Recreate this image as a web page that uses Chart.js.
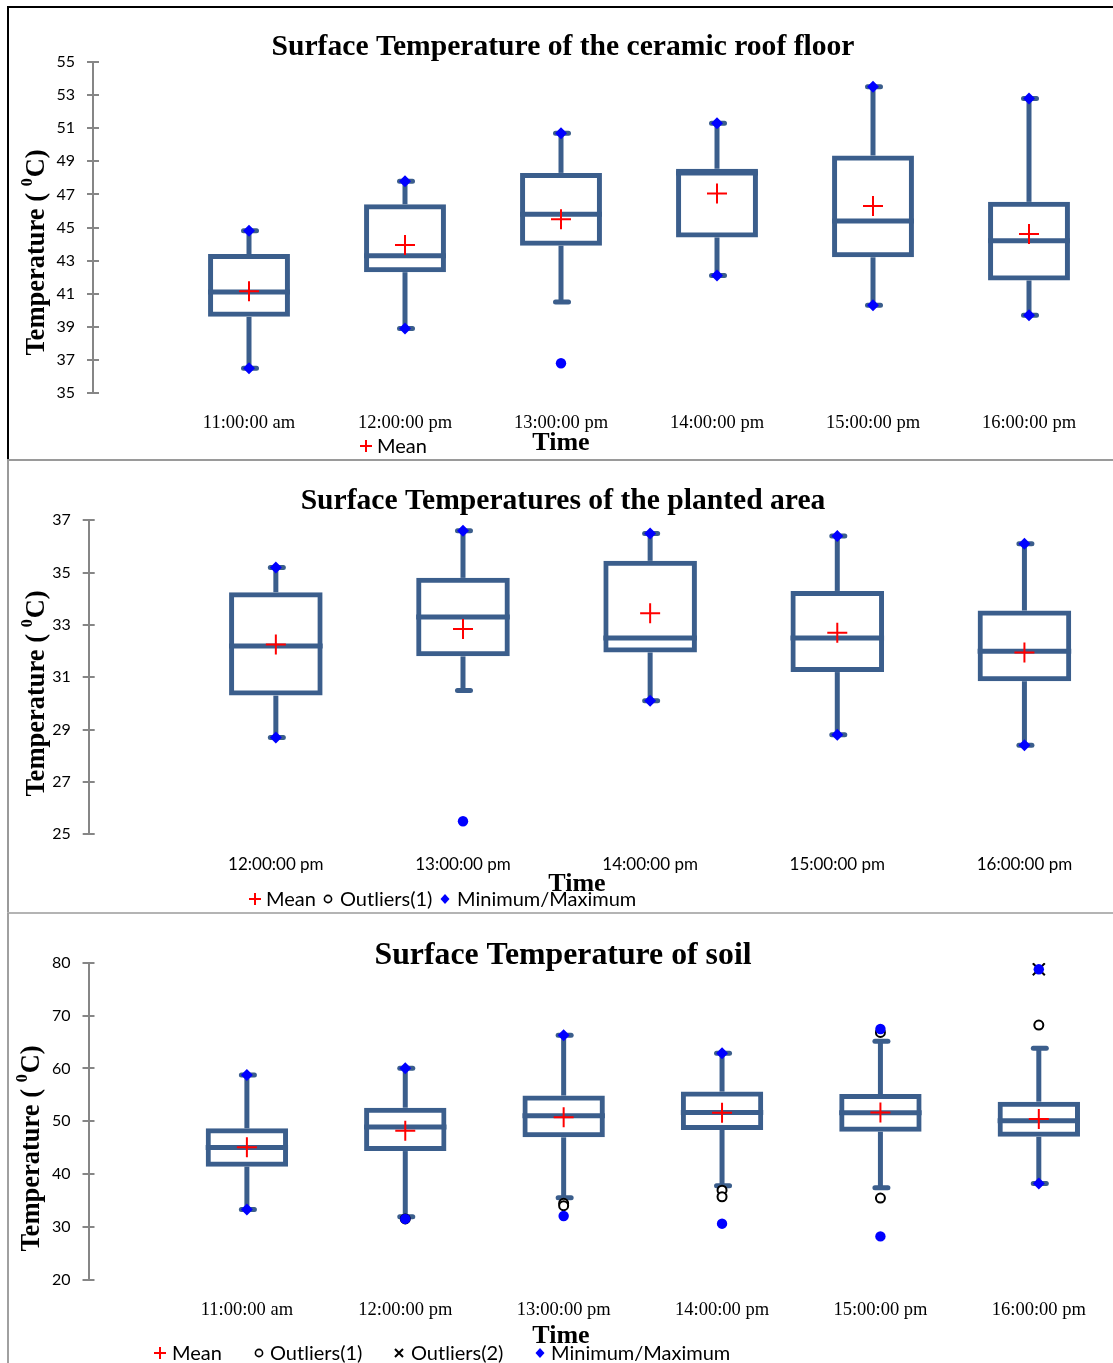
<!DOCTYPE html>
<html>
<head>
<meta charset="utf-8">
<script src="https://cdn.jsdelivr.net/npm/chart.js@4.4.1/dist/chart.umd.min.js"></script>
<style>
html,body{margin:0;padding:0;background:#fff;overflow:hidden;width:1113px;height:1363px;position:relative;}
canvas{position:absolute;left:0;}
.ln{position:absolute;}
</style>
</head>
<body>
<div class="ln" style="left:7px;top:6px;width:1120px;height:2px;background:#000;"></div>
<div class="ln" style="left:7px;top:6px;width:2px;height:454px;background:#000;"></div>
<div class="ln" style="left:7px;top:459px;width:1120px;height:2px;background:#9a9a9a;"></div>
<div class="ln" style="left:7px;top:460px;width:2px;height:453px;background:#9a9a9a;"></div>
<div class="ln" style="left:7px;top:912px;width:1120px;height:2px;background:#b4b4b4;"></div>
<div class="ln" style="left:7px;top:913px;width:2px;height:460px;background:#a0a0a0;"></div>

<canvas id="c1" width="1130" height="460" style="top:0px"></canvas>
<canvas id="c2" width="1130" height="453" style="top:460px"></canvas>
<canvas id="c3" width="1130" height="450" style="top:913px"></canvas>

<script>
// ---------- DATA: ceramic roof floor ----------
const roofTimes = ['11:00:00 am','12:00:00 pm','13:00:00 pm','14:00:00 pm','15:00:00 pm','16:00:00 pm'];
const roofMin    = [36.5, 38.9, 36.8, 42.1, 40.3, 39.7];
const roofLow    = [36.5, 38.9, 40.5, 42.1, 40.3, 39.7];
const roofQ1     = [39.6, 42.3, 43.9, 44.4, 43.2, 41.8];
const roofMedian = [41.1, 43.3, 45.8, 48.3, 45.4, 44.2];
const roofQ3     = [43.4, 46.4, 48.3, 48.55, 49.35, 46.55];
const roofHigh   = [44.8, 47.8, 50.7, 51.3, 53.5, 52.8];
const roofMax    = [44.8, 47.8, 50.7, 51.3, 53.5, 52.8];
const roofMean   = [41.15, 43.95, 45.5, 47.05, 46.3, 44.6];
const roofOut1Idx = [];
const roofOut1Val = [];
const roofOut2Idx = [];
const roofOut2Val = [];

// ---------- DATA: planted area ----------
const plantTimes = ['12:00:00 pm','13:00:00 pm','14:00:00 pm','15:00:00 pm','16:00:00 pm'];
const plantMin    = [28.7, 25.5, 30.1, 28.8, 28.4];
const plantLow    = [28.7, 30.5, 30.1, 28.8, 28.4];
const plantQ1     = [30.3, 31.8, 31.95, 31.2, 30.85];
const plantMedian = [32.2, 33.3, 32.5, 32.5, 32.0];
const plantQ3     = [34.25, 34.8, 35.45, 34.3, 33.55];
const plantHigh   = [35.2, 36.6, 36.5, 36.4, 36.1];
const plantMax    = [35.2, 36.6, 36.5, 36.4, 36.1];
const plantMean   = [32.25, 32.85, 33.45, 32.7, 31.95];
const plantOut1Idx = [];
const plantOut1Val = [];
const plantOut2Idx = [];
const plantOut2Val = [];

// ---------- DATA: soil ----------
const soilTimes = ['11:00:00 am','12:00:00 pm','13:00:00 pm','14:00:00 pm','15:00:00 pm','16:00:00 pm'];
const soilMin    = [33.3, 31.5, 32.05, 30.6, 28.2, 38.2];
const soilLow    = [33.3, 31.9, 35.5, 37.8, 37.4, 38.2];
const soilQ1     = [41.4, 44.35, 46.95, 48.35, 48.0, 47.05];
const soilMedian = [45.0, 48.9, 51.05, 51.65, 51.6, 50.1];
const soilQ3     = [48.65, 52.55, 54.85, 55.6, 55.15, 53.7];
const soilHigh   = [58.75, 60.0, 66.25, 62.85, 65.15, 63.8];
const soilMax    = [58.75, 60.0, 66.25, 62.85, 67.45, 78.75];
const soilMean   = [45.05, 48.2, 50.75, 51.6, 51.65, 50.4];
const soilOut1Idx = [1, 2, 2, 3, 3, 4, 4, 5];
const soilOut1Val = [31.5, 34.45, 34.0, 36.95, 35.7, 66.8, 35.45, 68.2];
const soilOut2Idx = [5];
const soilOut2Val = [78.75];

// ---------- rendering ----------
const BOX = '#3B5E8C';

const boxParts = {
  id: 'boxParts',
  beforeDatasetsDraw(chart, args, o) {
    const ctx = chart.ctx, xs = chart.scales.x, ys = chart.scales.y;
    const meta = chart.getDatasetMeta(0);
    ctx.save();
    ctx.strokeStyle = o.color;
    ctx.lineWidth = o.lw;
    const seg = (x1, y1, x2, y2, cap) => { ctx.lineCap = cap; ctx.beginPath(); ctx.moveTo(x1, y1); ctx.lineTo(x2, y2); ctx.stroke(); };
    o.q1.forEach((_, i) => {
      const cx = xs.getPixelForValue(i);
      const half = meta.data[i].width / 2;
      seg(cx, ys.getPixelForValue(o.q3[i]), cx, ys.getPixelForValue(o.hi[i]), 'butt');
      seg(cx, ys.getPixelForValue(o.q1[i]), cx, ys.getPixelForValue(o.lo[i]), 'butt');
      seg(cx - o.cap + 1, ys.getPixelForValue(o.hi[i]), cx + o.cap + 1, ys.getPixelForValue(o.hi[i]), 'round');
      seg(cx - o.cap + 1, ys.getPixelForValue(o.lo[i]), cx + o.cap + 1, ys.getPixelForValue(o.lo[i]), 'round');
      seg(cx - half, ys.getPixelForValue(o.med[i]), cx + half, ys.getPixelForValue(o.med[i]), 'butt');
    });
    // inner half of the y tick marks
    ctx.strokeStyle = '#868686'; ctx.lineWidth = 2;
    ys.ticks.forEach(t => {
      const py = Math.round(ys.getPixelForValue(t.value));
      seg(chart.chartArea.left, py, chart.chartArea.left + 6, py, 'butt');
    });
    ctx.restore();
  }
};

const decor = {
  id: 'decor',
  afterDraw(chart, args, o) {
    const ctx = chart.ctx;
    ctx.save();
    ctx.fillStyle = '#000';
    ctx.textBaseline = 'middle';
    ctx.textAlign = 'center';
    ctx.font = 'bold ' + o.titleSize + 'px "Liberation Serif"';
    ctx.fillText(o.title, o.titleX, o.titleY);
    ctx.font = 'bold ' + o.timeSize + 'px "Liberation Serif"';
    ctx.fillText(o.xTitle, o.timeX, o.timeY);
    // rotated y title with superscript 0
    ctx.save();
    ctx.translate(o.yX, o.yY);
    ctx.rotate(-Math.PI / 2);
    ctx.textAlign = 'left';
    const s = o.ySize;
    const fMain = 'bold ' + s + 'px "Liberation Serif"';
    const fSup = 'bold ' + Math.round(s * 0.62) + 'px "Liberation Serif"';
    const p1 = 'Temperature ( ', p2 = '0', p3 = 'C)';
    ctx.font = fMain; const w1 = ctx.measureText(p1).width, w3 = ctx.measureText(p3).width;
    ctx.font = fSup; const w2 = ctx.measureText(p2).width;
    let x0 = -(w1 + w2 + w3) / 2;
    ctx.font = fMain; ctx.fillText(p1, x0, 0);
    ctx.font = fSup; ctx.fillText(p2, x0 + w1, -s * 0.33);
    ctx.font = fMain; ctx.fillText(p3, x0 + w1 + w2 + 1, 0);
    ctx.restore();
    // legend
    ctx.textAlign = 'left';
    ctx.font = o.legSize + 'px Lato';
    const ly = o.legY;
    o.legend.forEach(it => {
      ctx.save();
      if (it.m === 'mean') {
        ctx.strokeStyle = '#FF0000'; ctx.lineWidth = 2;
        ctx.beginPath(); ctx.moveTo(it.mx - 6, ly); ctx.lineTo(it.mx + 6, ly);
        ctx.moveTo(it.mx, ly - 6); ctx.lineTo(it.mx, ly + 6); ctx.stroke();
      } else if (it.m === 'circle') {
        ctx.strokeStyle = '#000'; ctx.lineWidth = 1.6;
        ctx.beginPath(); ctx.arc(it.mx, ly, 3.6, 0, Math.PI * 2); ctx.stroke();
      } else if (it.m === 'x') {
        ctx.strokeStyle = '#000'; ctx.lineWidth = 2;
        ctx.beginPath(); ctx.moveTo(it.mx - 4, ly - 4); ctx.lineTo(it.mx + 4, ly + 4);
        ctx.moveTo(it.mx + 4, ly - 4); ctx.lineTo(it.mx - 4, ly + 4); ctx.stroke();
      } else if (it.m === 'diamond') {
        ctx.fillStyle = '#0000FF';
        ctx.beginPath(); ctx.moveTo(it.mx, ly - 5); ctx.lineTo(it.mx + 4.5, ly);
        ctx.lineTo(it.mx, ly + 5); ctx.lineTo(it.mx - 4.5, ly); ctx.closePath(); ctx.fill();
      }
      ctx.restore();
      ctx.fillText(it.text, it.tx, ly + 1);
    });
    ctx.restore();
  }
};

function buildChart(canvasId, d, L, deco) {
  const idx = d.cats.map((_, i) => i);
  const mm = [];
  idx.forEach(i => {
    mm.push({ x: i, y: d.min[i], far: Math.abs(d.min[i] - d.lo[i]) > 0.3 });
    mm.push({ x: i, y: d.max[i], far: Math.abs(d.max[i] - d.hi[i]) > 0.3 });
  });
  return new Chart(document.getElementById(canvasId), {
    type: 'bar',
    data: {
      datasets: [
        { type: 'bar', label: 'Box', data: idx.map(i => ({ x: i, y: [d.q1[i], d.q3[i]] })),
          backgroundColor: 'rgba(0,0,0,0)', borderColor: BOX, borderWidth: L.lw, borderSkipped: false,
          barPercentage: L.barPct, categoryPercentage: 1, order: 5 },
        { type: 'scatter', label: 'Outliers(1)', data: d.out1Idx.map((k, j) => ({ x: k, y: d.out1Val[j] })),
          pointStyle: 'circle', pointRadius: 4.5, pointBorderColor: '#000', pointBackgroundColor: '#fff',
          pointBorderWidth: 2, order: 3 },
        { type: 'scatter', label: 'Outliers(2)', data: d.out2Idx.map((k, j) => ({ x: k, y: d.out2Val[j] })),
          pointStyle: 'crossRot', pointRadius: 8.5, pointBorderColor: '#000', pointBorderWidth: 2, order: 2 },
        { type: 'scatter', label: 'Minimum/Maximum', data: mm,
          pointStyle: c => (c.raw && c.raw.far) ? 'circle' : 'rectRot',
          pointRadius: c => (c.raw && c.raw.far) ? 5.2 : 6,
          pointBackgroundColor: '#0000FF', pointBorderWidth: 0, order: 1 },
        { type: 'scatter', label: 'Mean', data: idx.map(i => ({ x: i, y: d.mean[i] })),
          pointStyle: 'cross', pointRadius: 10, pointBorderColor: '#FF0000', pointBorderWidth: 2, order: 0 }
      ]
    },
    options: {
      responsive: false, animation: false, events: [],
      layout: { padding: { left: 0, top: L.top, right: L.right, bottom: 0 } },
      scales: {
        x: {
          type: 'linear', min: -1, max: L.xmax, offset: false,
          grid: { display: false, drawTicks: false }, border: { display: false },
          afterBuildTicks: s => { s.ticks = idx.map(v => ({ value: v })); },
          afterFit: s => { s.height = L.xh; },
          ticks: { autoSkip: false, maxRotation: 0, minRotation: 0, padding: L.xpad, color: '#000',
                   font: { family: L.xfont, size: L.xsize }, callback: v => d.cats[v] !== undefined ? d.cats[v] : '' }
        },
        y: {
          min: d.ymin, max: d.ymax,
          afterFit: s => { s.width = L.left; },
          ticks: { stepSize: d.step, color: '#000', padding: 12, font: { family: 'Lato', size: 16 } },
          grid: { display: true, drawOnChartArea: false, drawTicks: true, tickLength: 6, color: '#868686', lineWidth: 2 },
          border: { display: true, color: '#868686', width: 2 }
        }
      },
      plugins: {
        legend: { display: false }, tooltip: { enabled: false },
        boxParts: { q1: d.q1, q3: d.q3, med: d.med, lo: d.lo, hi: d.hi, color: BOX, lw: L.lw, cap: 6.5 },
        decor: deco
      }
    },
    plugins: [boxParts, decor]
  });
}

buildChart('c1',
  { cats: roofTimes, min: roofMin, lo: roofLow, q1: roofQ1, med: roofMedian, q3: roofQ3, hi: roofHigh, max: roofMax,
    mean: roofMean, out1Idx: roofOut1Idx, out1Val: roofOut1Val, out2Idx: roofOut2Idx, out2Val: roofOut2Val,
    ymin: 35, ymax: 55, step: 2 },
  { top: 62, xh: 67, left: 93, right: 23, xmax: 5.5, xpad: 19, xfont: 'Liberation Serif', xsize: 18.5, barPct: 0.525, lw: 5 },
  { title: 'Surface Temperature of the ceramic roof floor', titleSize: 29.6, titleX: 563, titleY: 47,
    xTitle: 'Time', timeSize: 26, timeX: 561, timeY: 443,
    yX: 37, yY: 253, ySize: 26.5,
    legSize: 20, legY: 446, legend: [{ m: 'mean', mx: 366, tx: 377, text: 'Mean' }] });

buildChart('c2',
  { cats: plantTimes, min: plantMin, lo: plantLow, q1: plantQ1, med: plantMedian, q3: plantQ3, hi: plantHigh, max: plantMax,
    mean: plantMean, out1Idx: plantOut1Idx, out1Val: plantOut1Val, out2Idx: plantOut2Idx, out2Val: plantOut2Val,
    ymin: 25, ymax: 37, step: 2 },
  { top: 60.3, xh: 78.7, left: 88.7, right: 10, xmax: 4.5, xpad: 20.5, xfont: 'Lato', xsize: 17, barPct: 0.5, lw: 5 },
  { title: 'Surface Temperatures of the planted area', titleSize: 29.6, titleX: 563, titleY: 41,
    xTitle: 'Time', timeSize: 26, timeX: 577, timeY: 424,
    yX: 37, yY: 234, ySize: 26.5,
    legSize: 20, legY: 439, legend: [
      { m: 'mean', mx: 255, tx: 266, text: 'Mean' },
      { m: 'circle', mx: 328, tx: 340, text: 'Outliers(1)' },
      { m: 'diamond', mx: 445, tx: 457, text: 'Minimum/Maximum' }] });

buildChart('c3',
  { cats: soilTimes, min: soilMin, lo: soilLow, q1: soilQ1, med: soilMedian, q3: soilQ3, hi: soilHigh, max: soilMax,
    mean: soilMean, out1Idx: soilOut1Idx, out1Val: soilOut1Val, out2Idx: soilOut2Idx, out2Val: soilOut2Val,
    ymin: 20, ymax: 80, step: 10 },
  { top: 49.7, xh: 83.3, left: 88.5, right: 12, xmax: 5.5, xpad: 19.2, xfont: 'Liberation Serif', xsize: 18.5, barPct: 0.52, lw: 5 },
  { title: 'Surface Temperature of soil', titleSize: 31.8, titleX: 563, titleY: 43,
    xTitle: 'Time', timeSize: 26, timeX: 561, timeY: 423,
    yX: 32, yY: 236, ySize: 26.5,
    legSize: 20, legY: 440, legend: [
      { m: 'mean', mx: 160, tx: 172, text: 'Mean' },
      { m: 'circle', mx: 259, tx: 270, text: 'Outliers(1)' },
      { m: 'x', mx: 399, tx: 411, text: 'Outliers(2)' },
      { m: 'diamond', mx: 540, tx: 551, text: 'Minimum/Maximum' }] });
</script>
</body>
</html>
